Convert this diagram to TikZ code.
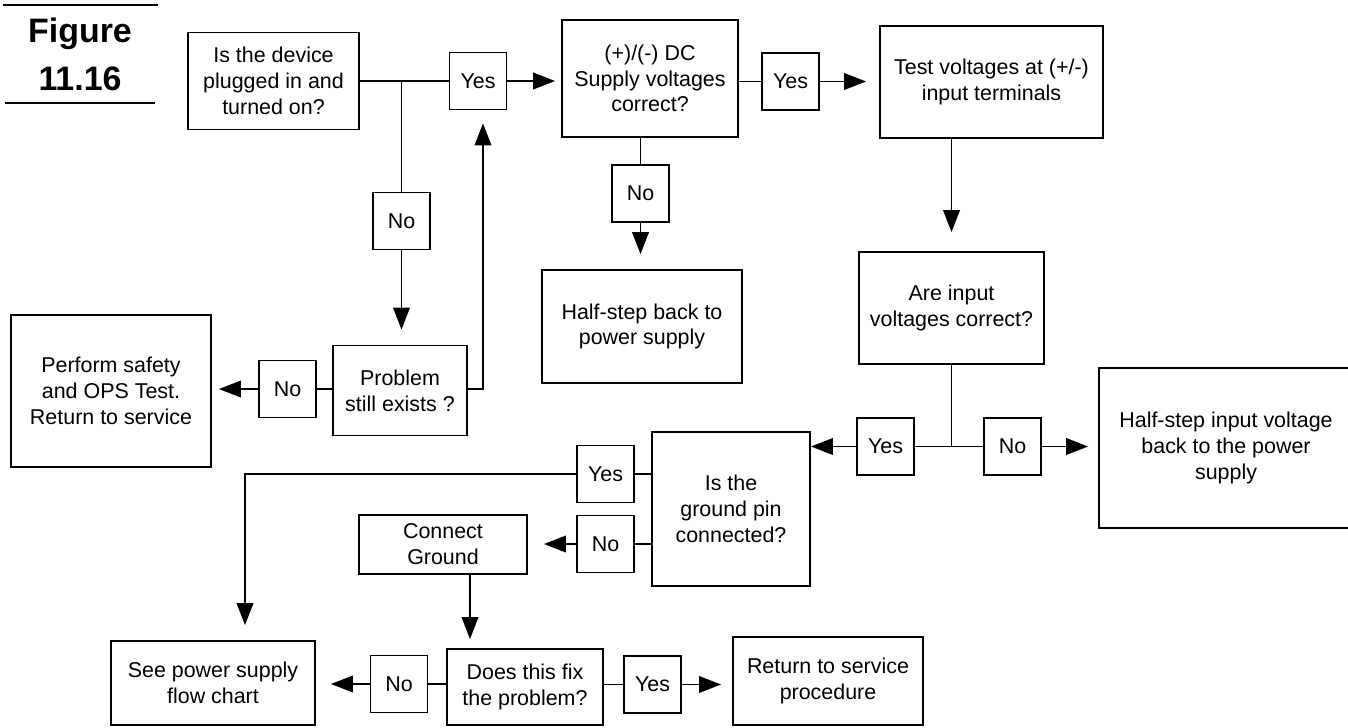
\documentclass[tikz,border=0pt]{standalone}
\usepackage{fontspec}
\setmainfont{Liberation Sans}
\usetikzlibrary{arrows.meta,calc}
\begin{document}
\begin{tikzpicture}[x=0.02cm,y=-0.02cm,
  box/.style={draw, line width=1.1pt, align=center, inner sep=0pt,
              font=\fontsize{12.2}{14.7}\selectfont},
  lbl/.style={box, minimum width=1.14cm, minimum height=1.14cm},
  link/.style={line width=0.85pt},
  arr/.style={link, -{Triangle[length=12.5pt,width=9.5pt]}},
  rule/.style={line width=1.5pt},
  title/.style={font=\fontsize{19.3}{22}\selectfont\bfseries, inner sep=0pt, anchor=base}
]
\useasboundingbox (0,0) rectangle (1348,727);
\clip (0,0) rectangle (1348,727);

% figure caption
\coordinate (r1a) at (3,5);   \coordinate (r1b) at (158,5);
\coordinate (r2a) at (5,103); \coordinate (r2b) at (155,103);
\draw[rule] (r1a) -- (r1b);
\draw[rule] (r2a) -- (r2b);
\node[title] (fig) at (80,42) {Figure};
\node[title] (num) at (80,90) {11.16};

% process boxes
\node[box, minimum width=3.42cm, minimum height=1.94cm] (A) at (273.5,81) {Is the device\\plugged in and\\turned on?};
\node[box, minimum width=3.52cm, minimum height=2.34cm] (B) at (650,78.5) {(+)/(-) DC\\Supply voltages\\correct?};
\node[box, minimum width=4.46cm, minimum height=2.24cm] (C) at (991.5,82) {Test voltages at (+/-)\\input terminals};
\node[box, minimum width=4.0cm, minimum height=2.26cm] (HS1) at (642,326.5) {Half-step back to\\power supply};
\node[box, minimum width=3.7cm, minimum height=2.24cm] (D) at (951.5,308) {Are input\\voltages correct?};
\node[box, minimum width=2.68cm, minimum height=1.8cm] (P) at (400,390.5) {Problem\\still exists ?};
\node[box, minimum width=4.0cm, minimum height=3.04cm] (PF) at (111,391) {Perform safety\\and OPS Test.\\Return to service};
\node[box, minimum width=5.08cm, minimum height=3.2cm] (HS2) at (1226,448) {Half-step input voltage\\back to the power\\supply};
\node[box, minimum width=3.16cm, minimum height=3.08cm] (GP) at (731,509) {Is the\\ground pin\\connected?};
\node[box, minimum width=3.36cm, minimum height=1.18cm] (CG) at (443,544.5) {Connect\\Ground};
\node[box, minimum width=4.08cm, minimum height=1.68cm] (SP) at (213,683) {See power supply\\flow chart};
\node[box, minimum width=3.12cm, minimum height=1.52cm] (DF) at (525,687) {Does this fix\\the problem?};
\node[box, minimum width=3.8cm, minimum height=1.76cm] (RS) at (828,681) {Return to service\\procedure};

% answer labels
\node[lbl] (y1) at (478,81) {Yes};
\node[lbl] (y2) at (790.5,81.5) {Yes};
\node[lbl] (n1) at (401.5,221) {No};
\node[lbl] (n2) at (640.5,193.5) {No};
\node[lbl] (n4) at (287.5,389) {No};
\node[lbl] (y3) at (885.5,446.5) {Yes};
\node[lbl] (n3) at (1012.5,446.5) {No};
\node[lbl] (y4) at (605.5,474) {Yes};
\node[lbl] (n6) at (605.5,544) {No};
\node[lbl] (n5) at (399,684) {No};
\node[lbl] (y6) at (652.5,684.5) {Yes};

% branch points
\coordinate (j1) at (n1.north |- A.east);
\coordinate (j2) at (D.south |- y3.east);
\coordinate (cgout) at ($(CG.south)+(27,0)$);

% top row
\draw[link] (A.east) -- (y1.west);
\draw[link] (j1) -- (n1.north);
\draw[arr, shorten >=0.12cm] (y1.east) -- (y1.east -| B.west);
\draw[link] (y2.west -| B.east) -- (y2.west);
\draw[arr, shorten >=0.26cm] (y2.east) -- (y2.east -| C.west);
\draw[link] (n2.north |- B.south) -- (n2.north);
\draw[arr, shorten >=0.3cm] (n2.south) -- (n2.south |- HS1.north);
\draw[arr, shorten >=0.38cm] (D.north |- C.south) -- (D.north);

% left loop
\draw[arr, shorten >=0.3cm] (n1.south) -- (n1.south |- P.north);
\draw[arr, shorten >=0.26cm] (n4.east -| P.east) -| ($(y1.south)+(5,0)$);
\draw[link] (n4.east -| P.west) -- (n4.east);
\draw[arr, shorten >=0.14cm] (n4.west) -- (n4.west -| PF.east);

% input voltage decision
\draw[link] (D.south) -- (j2);
\draw[link] (j2) -- (y3.east);
\draw[link] (j2) -- (n3.west);
\draw[arr] (y3.west) -- (y3.west -| GP.east);
\draw[arr, shorten >=0.2cm] (n3.east) -- (n3.east -| HS2.west);

% ground pin decision
\draw[link] (y4.east -| GP.west) -- (y4.east);
\draw[arr, shorten >=0.3cm] (y4.west) -| ($(SP.north)+(32,0)$);
\draw[link] (n6.east -| GP.west) -- (n6.east);
\draw[arr, shorten >=0.32cm] (n6.west) -- (n6.west -| CG.east);
\draw[arr, shorten >=0.18cm] (cgout) -- (cgout |- DF.north);

% final decision
\draw[link] (n5.east -| DF.west) -- (n5.east);
\draw[arr, shorten >=0.3cm] (n5.west) -- (n5.west -| SP.east);
\draw[link] (y6.west -| DF.east) -- (y6.west);
\draw[arr, shorten >=0.22cm] (y6.east) -- (y6.east -| RS.west);
\end{tikzpicture}
\end{document}
